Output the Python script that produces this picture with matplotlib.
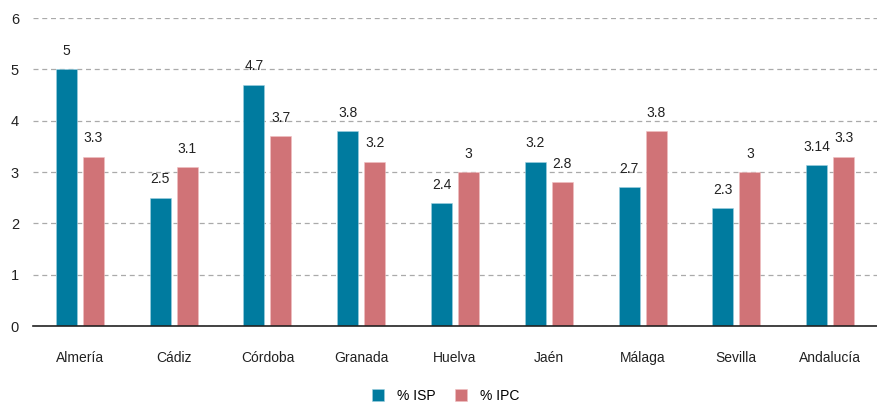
import numpy as np
import matplotlib.pyplot as plt

plt.rcParams['font.family'] = ['Liberation Sans', 'DejaVu Sans']

provincias = ["Almería", "Cádiz", "Córdoba", "Granada", "Huelva", "Jaén", "Málaga", "Sevilla", "Andalucía"]
isp = [5, 2.5, 4.7, 3.8, 2.4, 3.2, 2.7, 2.3, 3.14]
ipc = [3.3, 3.1, 3.7, 3.2, 3, 2.8, 3.8, 3, 3.3]
isp_lbl = ["5", "2.5", "4.7", "3.8", "2.4", "3.2", "2.7", "2.3", "3.14"]
ipc_lbl = ["3.3", "3.1", "3.7", "3.2", "3", "2.8", "3.8", "3", "3.3"]

c_isp = "#007b9f"
c_ipc = "#d07377"

fig = plt.figure(figsize=(8.77, 4.08), dpi=100)
ax = fig.add_axes([33/877, 82/408, 844/877, 308/408])

x = np.arange(len(provincias))
w = 0.224
off = 0.144
b1 = ax.bar(x - off, isp, w, color=c_isp, label="% ISP", edgecolor="#9fd0e0", linewidth=0.4)
b2 = ax.bar(x + off, ipc, w, color=c_ipc, label="% IPC", edgecolor="#f0c0c2", linewidth=0.4)

for rect, t in zip(b1, isp_lbl):
    ax.text(rect.get_x() + rect.get_width()/2, rect.get_height() + 0.22, t,
            ha="center", va="bottom", fontsize=10, color="#222222")
for rect, t in zip(b2, ipc_lbl):
    ax.text(rect.get_x() + rect.get_width()/2, rect.get_height() + 0.22, t,
            ha="center", va="bottom", fontsize=10, color="#222222")

ax.set_xlim(-0.5, len(provincias) - 0.5)
ax.set_ylim(0, 6)
ax.set_yticks(range(7))
ax.set_xticks(x)
ax.set_xticklabels(provincias, fontsize=10, color="#222222")
ax.tick_params(axis="y", length=0, pad=16, labelsize=10.5, labelcolor="#222222")
ax.tick_params(axis="x", length=0, pad=18)
for lbl in ax.get_yticklabels():
    lbl.set_horizontalalignment("left")

ax.yaxis.grid(True, linestyle=(0, (4, 3)), color="#aaaaaa", linewidth=0.9)
ax.set_axisbelow(True)
for s in ["top", "right", "left"]:
    ax.spines[s].set_visible(False)
ax.spines["bottom"].set_color("#222222")
ax.spines["bottom"].set_linewidth(1.2)

fig.legend(handles=[b1, b2], loc="lower center", bbox_to_anchor=(0.508, -0.018), ncol=2,
           frameon=False, fontsize=10, handlelength=0.9, handleheight=0.9,
           columnspacing=1.4, handletextpad=0.9)

fig.savefig("out.png", dpi=100)
